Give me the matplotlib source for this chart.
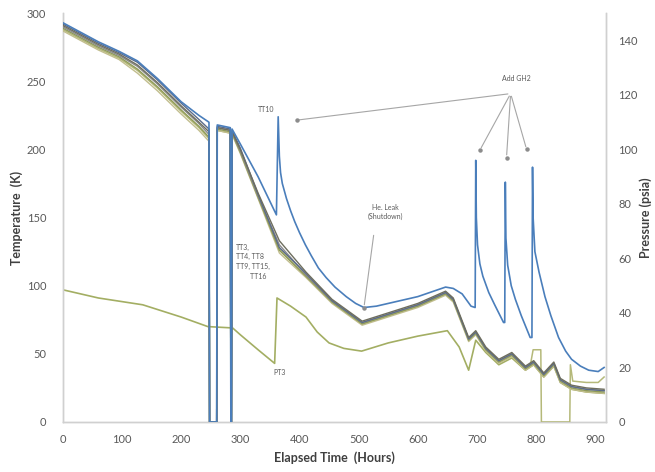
import numpy as np
import matplotlib
matplotlib.use("Agg")
import matplotlib.pyplot as plt

plt.rcParams['font.family'] = ['Lato', 'DejaVu Sans']

# ---- data ----
hours_tt = [0, 30, 60, 95, 126, 160, 200, 230, 247, 248, 260, 261, 283, 284, 285, 286,
            300, 330, 366, 411, 455, 506, 535, 600, 647, 660, 686, 698, 715, 737, 759,
            782, 796, 813, 830, 841, 860, 885, 915]

tt3 = [291, 284, 277, 270, 262, 249, 232, 220, 213, 0, 0, 216, 214, 0, 0, 213,
       200, 168, 133, 110, 90, 74, 78, 87, 96, 91, 62, 67, 55, 46, 51,
       41, 45, 36, 44, 32, 27, 25, 24]
tt4 = [292, 285, 278, 271, 264, 251, 234, 222, 215, 0, 0, 217, 215, 0, 0, 214,
       201, 167, 128, 109, 89, 73, 77, 86, 95, 90, 61, 66, 54, 45, 50,
       40, 44, 35, 43, 31, 26, 24, 23]
tt8 = [289, 282, 275, 268, 259, 246, 229, 217, 209, 0, 0, 215, 213, 0, 0, 212,
       198, 165, 126, 107, 88, 72, 76, 85, 94, 89, 60, 65, 53, 44, 49,
       39, 43, 34, 42, 30, 25, 23, 22]
tt9 = [287, 280, 273, 266, 256, 243, 226, 214, 206, 0, 0, 214, 212, 0, 0, 211,
       197, 164, 124, 106, 87, 71, 75, 84, 93, 88, 59, 64, 52, 43, 48,
       38, 42, 33, 41, 29, 24, 22, 21]
tt15 = [290, 283, 276, 269, 261, 248, 231, 219, 211, 0, 0, 216, 214, 0, 0, 213,
        199, 166, 130, 108, 89, 73, 77, 86, 95, 90, 61, 66, 54, 45, 50,
        40, 44, 35, 43, 31, 26, 24, 23]

hours_tt16 = [0, 30, 60, 95, 126, 160, 200, 230, 247, 248, 260, 261, 283, 284, 285, 286,
              300, 330, 366, 411, 455, 506, 535, 600, 647, 660, 686, 698, 715, 737, 759,
              782, 790, 795, 808, 809, 857, 858, 862, 885, 905, 915]
tt16 = [288, 281, 274, 267, 258, 245, 228, 216, 208, 0, 0, 214, 212, 0, 0, 212,
        198, 165, 127, 107, 88, 72, 76, 85, 94, 89, 60, 65, 53, 44, 49,
        39, 41, 53, 53, 0, 0, 42, 30, 29, 29, 33]

hours_tt10 = [0, 30, 60, 95, 126, 160, 200, 230, 247, 248, 260, 261, 283, 284, 285, 286,
              300, 330, 361, 364, 366, 368, 371, 378, 385, 392, 400, 410, 420, 432, 445,
              460, 479, 495, 509, 530, 600, 647, 660, 675, 690, 697,
              698, 699, 701, 705, 710, 720, 730, 745, 747,
              748, 749, 752, 758, 765, 775, 790, 793,
              794, 795, 798, 805, 815, 825, 838, 850, 860, 875, 889, 905, 915]
tt10 = [293, 286, 279, 272, 265, 252, 235, 225, 220, 0, 0, 218, 216, 0, 0, 215,
        204, 180, 152, 224, 195, 183, 175, 164, 155, 147, 139, 130, 122, 113, 106,
        99, 92, 87, 84, 85, 92, 99, 98, 94, 85, 84,
        192, 150, 130, 116, 107, 95, 86, 73, 73,
        176, 135, 115, 100, 90, 78, 62, 62,
        187, 150, 125, 110, 92, 78, 62, 52, 46, 41, 38, 37, 40]

hours_pt3 = [0, 60, 135, 200, 245, 287, 300, 330, 358, 362, 385, 411, 430, 450, 475, 505,
             550, 600, 650, 670, 686, 698, 715, 737, 759, 782, 796, 813, 830, 841, 860,
             885, 915]
pt3 = [48.5, 45.5, 43, 38.5, 35, 34.5, 32, 26.5, 21.5, 45.5, 42.5, 38.5, 33, 29, 27, 26,
       29, 31.5, 33.5, 27.5, 19, 30, 25.5, 21, 23.5, 19, 21, 16.5, 20.5, 14.5, 12,
       11, 10.5]

bundle = [(tt9, '#C2BE8E'), (tt8, '#8E9A58'), (tt15, '#8C8C8C'),
          (tt4, '#5B6B8A'), (tt3, '#6E6E5E')]

fig, ax = plt.subplots(figsize=(6.55, 4.72), dpi=100)
fig.subplots_adjust(left=0.096, right=0.925, bottom=0.106, top=0.972)
ax2 = ax.twinx()

ax2.plot(hours_pt3, pt3, color='#A3AE63', lw=1.2, zorder=2)
ax.plot(hours_tt16, tt16, color='#B5B97A', lw=1.1, zorder=3)
for vals, col in bundle:
    ax.plot(hours_tt, vals, color=col, lw=1.0, zorder=3)
ax.plot(hours_tt10, tt10, color='#4A7EBB', lw=1.2, zorder=4)

ax.set_zorder(ax2.get_zorder() + 1)
ax.patch.set_visible(False)

ax.set_xlim(0, 918)
ax.set_ylim(0, 300)
ax2.set_ylim(0, 150)
ax.set_xticks(np.arange(0, 901, 100))
ax.set_yticks(np.arange(0, 301, 50))
ax2.set_yticks(np.arange(0, 141, 20))

lab_col = '#595959'
ax.tick_params(axis='both', length=0, labelsize=8, labelcolor=lab_col)
ax.tick_params(axis='y', pad=12)
ax.tick_params(axis='x', pad=9)
ax2.tick_params(axis='y', length=0, labelsize=8, labelcolor=lab_col, pad=9)

for a in (ax, ax2):
    a.spines['top'].set_visible(False)
    for side in ('left', 'bottom', 'right'):
        a.spines[side].set_color('#D0D0D0')
        a.spines[side].set_linewidth(1.0)

ax.set_xlabel('Elapsed Time  (Hours)', fontsize=9, fontweight='bold', color='#404040', labelpad=4)
ax.set_ylabel('Temperature  (K)', fontsize=9, fontweight='bold', color='#404040', labelpad=3)
ax2.set_ylabel('Pressure (psia)', fontsize=9, fontweight='bold', color='#404040', labelpad=1)

# ---- callouts ----
txt = dict(fontsize=5, color='#595959')
line = dict(arrowstyle='-', color='#A6A6A6', lw=0.8)

ax.text(344, 229, 'TT10', ha='center', va='center', **txt)
ax.text(766, 252, 'Add GH2', ha='center', va='center', **txt)
hub = (757, 241)
gh2_ends = [(395, 221.5), (705, 199.5), (750, 194), (784, 200)]
for end in gh2_ends:
    ax.annotate('', xy=end, xytext=hub, arrowprops=line)
    ax.plot(*end, 'o', ms=2.2, color='#8C8C8C', zorder=5)

ax.text(546, 154, 'He. Leak\n(Shutdown)', ha='center', va='center', linespacing=1.3, **txt)
ax.annotate('', xy=(509, 84), xytext=(526, 139), arrowprops=line)
ax.plot(509, 84, 'o', ms=2.2, color='#8C8C8C', zorder=5)

ax.text(293, 131, 'TT3,\nTT4, TT8\nTT9, TT15,\n        TT16', ha='left', va='top',
        linespacing=1.45, **txt)
ax.text(366, 36, 'PT3', ha='center', va='center', **txt)

plt.savefig('out.png', dpi=100)
